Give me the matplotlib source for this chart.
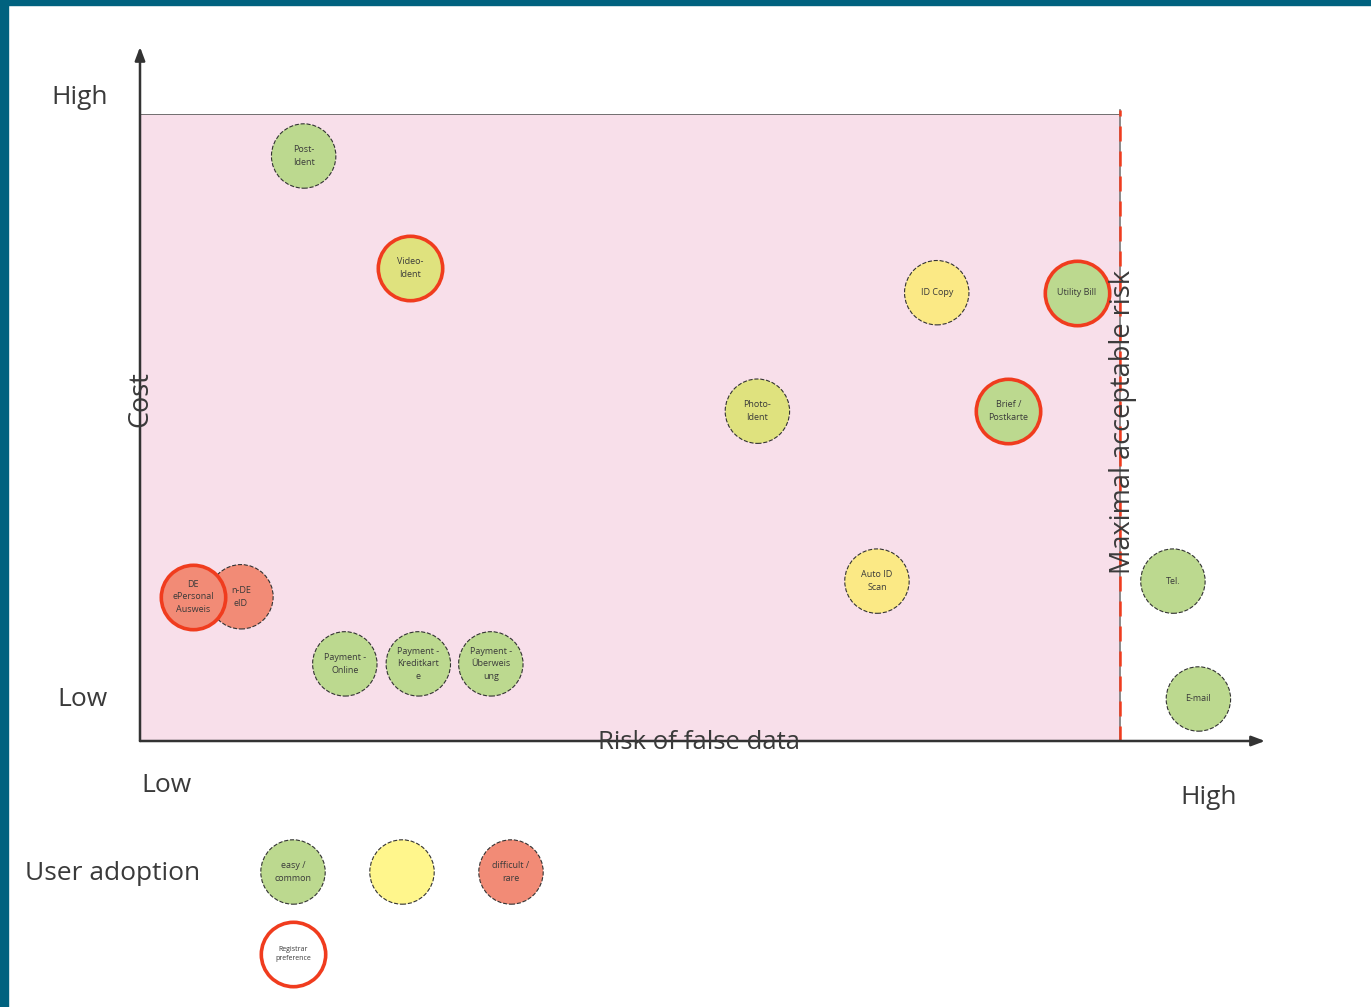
import matplotlib.pyplot as plt
from matplotlib.patches import Rectangle

plt.rcParams['font.family'] = ['Open Sans', 'DejaVu Sans']

# risk of false data (0 = low, 10 = max acceptable), cost (0 = low, 10 = high)
names = ['Post-\nIdent', 'Video-\nIdent', 'ID Copy', 'Utility Bill', 'Photo-\nIdent',
         'Brief /\nPostkarte', 'Auto ID\nScan', 'Tel.', 'E-mail',
         'n-DE\neID', 'DE\nePersonal\nAusweis',
         'Payment -\nOnline', 'Payment -\nKreditkart\ne', 'Payment -\nÜberweis\nung']
risk = [1.67, 2.76, 8.13, 9.56, 6.30, 8.86, 7.52, 10.54, 10.80, 1.03, 0.54, 2.09, 2.84, 3.58]
cost = [9.33, 7.54, 7.15, 7.15, 5.26, 5.26, 2.55, 2.55, 0.67, 2.30, 2.30, 1.23, 1.23, 1.23]
adoption = ['easy', 'medium', 'yellow', 'easy', 'medium', 'easy', 'yellow', 'easy', 'easy',
            'rare', 'rare', 'easy', 'easy', 'easy']
registrar = [False, True, False, True, False, True, False, False, False,
             False, True, False, False, False]

fill = {'easy': '#bcd98f', 'medium': '#dfe27e', 'yellow': '#fbe985', 'rare': '#f28b76',
        'legend_yellow': '#fff68c'}
RED = '#f03c1e'
INK = '#3a3a3a'

W, H = 1371, 1007
fig = plt.figure(figsize=(W / 100, H / 100), dpi=100)

# canvas in pixel coords for the frame and decorations
bg = fig.add_axes([0, 0, 1, 1])
bg.set_xlim(0, W)
bg.set_ylim(H, 0)
bg.axis('off')
bg.add_patch(Rectangle((0, 0), W, 5, color='#00627f', zorder=5))
bg.add_patch(Rectangle((0, 0), 8, H, color='#00627f', zorder=5))

# quadrant axes: pixel box x 140..1120, y 114..741
x0, x1, y0, y1 = 140, 1120, 114, 741
ax = fig.add_axes([x0 / W, 1 - y1 / H, (x1 - x0) / W, (y1 - y0) / H])
ax.set_xlim(0, 10)
ax.set_ylim(0, 10)
ax.axis('off')
ax.add_patch(Rectangle((0, 0), 10, 10, facecolor='#f8dfea', edgecolor='none', zorder=0))
ax.plot([0, 10], [10, 10], color='#666666', lw=1.3, zorder=1)
ax.plot([10, 10], [0, 10.06], color='#777777', lw=1.2, zorder=1, clip_on=False)
ax.plot([10, 10], [0, 10.06], color=RED, lw=1.8, ls=(0, (6, 4)), zorder=2, clip_on=False)

# main axes arrows
arrow = dict(arrowstyle='-|>,head_width=0.3,head_length=0.8', color='#333333', lw=1.8,
             shrinkA=0, shrinkB=0)
ax.annotate('', xy=(0, 11.07), xytext=(0, 0), annotation_clip=False, arrowprops=arrow)
ax.annotate('', xy=(11.48, 0), xytext=(0, 0), annotation_clip=False, arrowprops=arrow)

for n, r, c, a, reg in zip(names, risk, cost, adoption, registrar):
    if reg:
        ax.scatter(r, c, s=2150, facecolor=fill[a], edgecolor=RED, linewidth=2.6, zorder=3, clip_on=False)
    else:
        ax.scatter(r, c, s=2150, facecolor=fill[a], edgecolor='#333333', linewidth=0.8,
                   linestyle='--', zorder=3, clip_on=False)
    ax.text(r, c, n, ha='center', va='center', fontsize=6.5, color=INK, zorder=4,
            linespacing=1.5)

ax.text(5.7, -0.03, 'Risk of false data', ha='center', va='center', fontsize=18.5, color=INK, zorder=5)
ax.text(0, 5.45, 'Cost', ha='center', va='center', rotation=90, fontsize=19.5, color=INK, zorder=5)
ax.text(10.03, 5.09, 'Maximal acceptable risk', ha='center', va='center', rotation=90,
        fontsize=19.5, color=INK, zorder=5)

bg.text(80, 97, 'High', ha='center', va='center', fontsize=19, color=INK)
bg.text(83, 699, 'Low', ha='center', va='center', fontsize=19, color=INK)
bg.text(167, 786, 'Low', ha='center', va='center', fontsize=19, color=INK)
bg.text(1209, 798, 'High', ha='center', va='center', fontsize=19, color=INK)
bg.text(113, 874, 'User adoption', ha='center', va='center', fontsize=19, color=INK)

# legend
leg_x = [293, 402, 511]
leg_y = [872, 872, 872]
leg_key = ['easy', 'legend_yellow', 'rare']
leg_text = ['easy /\ncommon', '', 'difficult /\nrare']
for lx, ly, k, t in zip(leg_x, leg_y, leg_key, leg_text):
    bg.scatter(lx, ly, s=2150, facecolor=fill[k], edgecolor='#333333', linewidth=0.8,
               linestyle='--', zorder=3)
    bg.text(lx, ly, t, ha='center', va='center', fontsize=6.5, color=INK, zorder=4, linespacing=1.5)
bg.scatter(293, 954, s=2150, facecolor='white', edgecolor=RED, linewidth=2.6, zorder=3)
bg.text(293, 954, 'Registrar\npreference', ha='center', va='center', fontsize=5, color=INK,
        zorder=4, linespacing=1.5)

plt.savefig('out.png', dpi=100)
